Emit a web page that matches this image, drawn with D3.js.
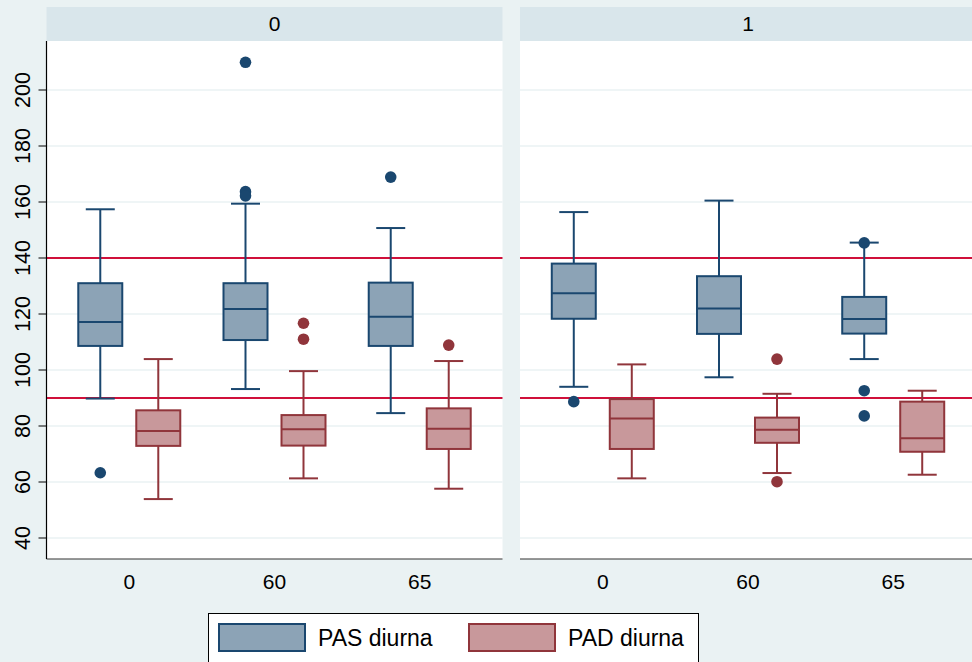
<!DOCTYPE html>
<html>
<head>
<meta charset="utf-8">
<script src="https://cdn.jsdelivr.net/npm/d3@7"></script>
<style>
  html, body { margin: 0; padding: 0; background: #eaf2f3; }
  svg { display: block; font-family: "Liberation Sans", Arial, sans-serif; }
</style>
</head>
<body>
<svg id="chart" width="972" height="662"></svg>
<script>
// ---------------- DATA ----------------
const panels = ["0", "1"];
const categories = ["0", "60", "65"];
const seriesNames = ["PAS diurna", "PAD diurna"];
const yTicks = [40, 60, 80, 100, 120, 140, 160, 180, 200];
const refLines = [140, 90];

// per panel, per category
const pasLow    = [[89.8, 93.2, 84.6], [94.0, 97.4, 103.9]];
const pasQ1     = [[108.6, 110.7, 108.6], [118.3, 112.9, 113.0]];
const pasMedian = [[117.1, 121.8, 119.0], [127.4, 122.0, 118.2]];
const pasQ3     = [[131.0, 131.0, 131.2], [138.0, 133.5, 126.1]];
const pasHigh   = [[157.4, 159.4, 150.7], [156.4, 160.5, 145.5]];
const pasOutliers = [[[63.3], [209.9, 163.7, 162.2], [168.9]], [[88.7], [], [145.4, 92.6, 83.6]]];

const padLow    = [[53.9, 61.3, 57.6], [61.3, 63.2, 62.6]];
const padQ1     = [[72.9, 73.0, 71.8], [71.8, 74.0, 70.8]];
const padMedian = [[78.2, 78.8, 79.0], [82.7, 78.7, 75.6]];
const padQ3     = [[85.6, 83.9, 86.3], [89.6, 83.0, 88.7]];
const padHigh   = [[103.9, 99.6, 103.2], [102.0, 91.5, 92.6]];
const padOutliers = [[[], [116.7, 111.0], [108.9]], [[], [103.9, 60.1], []]];

// ---------------- STYLE / LAYOUT ----------------
const colors = {
  pas: { fill: "#8ca3b6", stroke: "#1a476f" },
  pad: { fill: "#c8989b", stroke: "#90353b" }
};
const bg = "#eaf2f3", headerBg = "#d9e6eb", refColor = "#d0103a";
const panelLefts = [46.5, 520];
const panelW = 456;
const plotTop = 41, plotBottom = 559, headerTop = 7;
const boxOffset = 29, boxW = 44, capW = 29, r = 5.8;

const svg = d3.select("#chart");
svg.append("rect").attr("width", 972).attr("height", 662).attr("fill", bg);

const y = d3.scaleLinear().domain([32.5, 217.5]).range([plotBottom, plotTop]);
const x = d3.scalePoint().domain(categories).range([0, panelW]).padding(0.57);

const seriesData = [
  { key: "pas", low: pasLow, q1: pasQ1, med: pasMedian, q3: pasQ3, high: pasHigh, out: pasOutliers, dx: -boxOffset },
  { key: "pad", low: padLow, q1: padQ1, med: padMedian, q3: padQ3, high: padHigh, out: padOutliers, dx: boxOffset }
];

panels.forEach((p, pi) => {
  const g = svg.append("g").attr("transform", `translate(${panelLefts[pi]},0)`);
  // header
  g.append("rect").attr("x", 0).attr("y", headerTop).attr("width", panelW).attr("height", plotTop - headerTop)
    .attr("fill", headerBg);
  g.append("text").attr("x", panelW / 2).attr("y", 24).attr("dy", "0.35em")
    .attr("text-anchor", "middle").attr("font-size", 21).attr("fill", "#000").text(p);
  // plot region
  g.append("rect").attr("x", 0).attr("y", plotTop).attr("width", panelW).attr("height", plotBottom - plotTop)
    .attr("fill", "#fff");
  // gridlines
  g.selectAll("line.grid").data(yTicks).join("line").attr("class", "grid")
    .attr("x1", 0).attr("x2", panelW).attr("y1", d => y(d)).attr("y2", d => y(d))
    .attr("stroke", bg).attr("stroke-width", 1.5);
  // reference lines
  g.selectAll("line.ref").data(refLines).join("line").attr("class", "ref")
    .attr("x1", 0).attr("x2", panelW).attr("y1", d => y(d)).attr("y2", d => y(d))
    .attr("stroke", refColor).attr("stroke-width", 1.8);

  // boxes
  seriesData.forEach(s => {
    const c = colors[s.key];
    categories.forEach((cat, ci) => {
      const cx = x(cat) + s.dx;
      const lo = s.low[pi][ci], q1 = s.q1[pi][ci], md = s.med[pi][ci], q3 = s.q3[pi][ci], hi = s.high[pi][ci];
      const bg2 = g.append("g");
      // whiskers
      bg2.append("line").attr("x1", cx).attr("x2", cx).attr("y1", y(hi)).attr("y2", y(q3))
        .attr("stroke", c.stroke).attr("stroke-width", 2);
      bg2.append("line").attr("x1", cx).attr("x2", cx).attr("y1", y(q1)).attr("y2", y(lo))
        .attr("stroke", c.stroke).attr("stroke-width", 2);
      [lo, hi].forEach(v => {
        bg2.append("line").attr("x1", cx - capW / 2).attr("x2", cx + capW / 2).attr("y1", y(v)).attr("y2", y(v))
          .attr("stroke", c.stroke).attr("stroke-width", 2);
      });
      // box
      bg2.append("rect").attr("x", cx - boxW / 2).attr("y", y(q3)).attr("width", boxW).attr("height", y(q1) - y(q3))
        .attr("fill", c.fill).attr("stroke", c.stroke).attr("stroke-width", 2);
      bg2.append("line").attr("x1", cx - boxW / 2).attr("x2", cx + boxW / 2).attr("y1", y(md)).attr("y2", y(md))
        .attr("stroke", c.stroke).attr("stroke-width", 2);
      // outliers
      bg2.selectAll("circle").data(s.out[pi][ci]).join("circle")
        .attr("cx", cx).attr("cy", d => y(d)).attr("r", r).attr("fill", c.stroke);
    });
  });

  // bottom axis line
  g.append("line").attr("x1", 0).attr("x2", panelW).attr("y1", plotBottom).attr("y2", plotBottom)
    .attr("stroke", "#333").attr("stroke-width", 1.2);
  // x labels
  g.selectAll("text.xl").data(categories).join("text").attr("class", "xl")
    .attr("x", d => x(d)).attr("y", 582).attr("dy", "0.35em")
    .attr("text-anchor", "middle").attr("font-size", 21).attr("fill", "#000").text(d => d);

  if (pi === 0) {
    // left axis
    g.append("line").attr("x1", 0).attr("x2", 0).attr("y1", plotTop).attr("y2", plotBottom)
      .attr("stroke", "#000").attr("stroke-width", 1.2);
    g.selectAll("line.tick").data(yTicks).join("line").attr("class", "tick")
      .attr("x1", -8).attr("x2", 0).attr("y1", d => y(d)).attr("y2", d => y(d))
      .attr("stroke", "#000").attr("stroke-width", 1);
    g.selectAll("text.yl").data(yTicks).join("text").attr("class", "yl")
      .attr("transform", d => `translate(-24,${y(d)}) rotate(-90)`)
      .attr("dy", "0.35em").attr("text-anchor", "middle").attr("font-size", 21.5).attr("fill", "#000")
      .text(d => d);
  }
});

// legend
const leg = svg.append("g");
leg.append("rect").attr("x", 208.5).attr("y", 613.5).attr("width", 490).attr("height", 60)
  .attr("fill", "#fff").attr("stroke", "#000").attr("stroke-width", 1);
const legItems = [
  { name: seriesNames[0], key: "pas", rx: 219, tx: 318 },
  { name: seriesNames[1], key: "pad", rx: 469, tx: 568 }
];
legItems.forEach(it => {
  leg.append("rect").attr("x", it.rx).attr("y", 624).attr("width", 86).attr("height", 27)
    .attr("fill", colors[it.key].fill).attr("stroke", colors[it.key].stroke).attr("stroke-width", 2);
  leg.append("text").attr("x", it.tx).attr("y", 638).attr("dy", "0.35em")
    .attr("font-size", 23).attr("fill", "#000").text(it.name);
});
</script>
</body>
</html>
